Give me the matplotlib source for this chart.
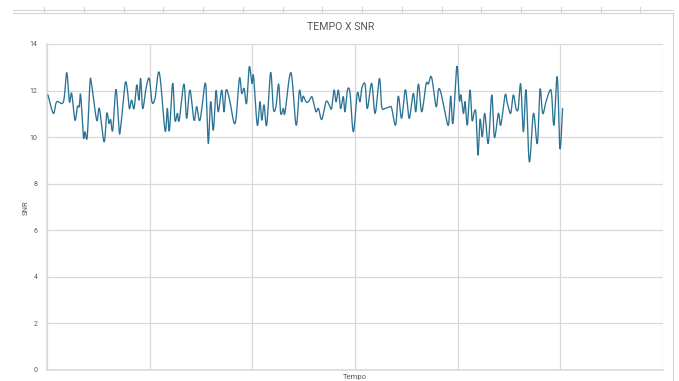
import numpy as np
import matplotlib
matplotlib.use("Agg")
import matplotlib.pyplot as plt
from matplotlib.lines import Line2D

# SNR readings over time
tempo = [0.5, 3.1, 4.7, 8.0, 9.6, 10.9, 12.0, 13.6, 14.8, 15.7, 16.4, 17.7, 18.5, 19.6,
         20.9, 21.7, 24.2, 25.5, 27.8, 29.1, 30.2, 31.0, 32.0, 33.6, 35.1, 35.9, 38.0,
         39.1, 40.1, 41.2, 42.4, 43.7, 44.8, 45.6, 46.6, 48.2, 49.8, 51.1, 52.6, 54.7,
         57.5, 58.6, 59.6, 61.2, 62.3, 63.5, 64.4, 66.7, 68.0, 69.6, 71.6, 72.9, 74.5,
         77.0, 77.8, 78.6, 79.7, 81.0, 82.3, 83.4, 85.1, 86.2, 87.2, 88.8, 91.6, 93.7,
         94.8, 96.0, 97.2, 98.5, 99.8, 100.6, 102.4, 103.7, 104.6, 105.7, 107.0, 108.9,
         110.2, 111.5, 112.8, 113.8, 115.1, 115.9, 118.8, 121.3, 122.9, 124.0, 124.8,
         126.1, 127.3, 128.9, 129.7, 131.0, 132.2, 133.8, 135.9, 137.5, 138.6, 139.8,
         140.8, 141.9, 143.0, 144.3, 145.1, 146.3, 147.6, 149.2, 151.1, 152.4, 153.3,
         154.9, 156.0, 158.1, 159.8, 161.9, 163.0, 164.6, 167.1, 167.9, 169.8, 171.1,
         172.7, 174.4, 175.5, 176.5, 178.4, 179.6, 180.9, 182.5, 184.6, 185.7, 187.3,
         189.5, 190.6, 191.7, 193.8, 195.5, 196.6, 197.7, 199.6, 200.8, 201.6, 202.8,
         203.6, 204.7, 206.0, 207.0, 208.0, 208.9, 209.9, 210.9, 212.0, 213.2, 214.9,
         216.6, 217.9, 219.8, 221.0, 223.1, 224.2, 225.8, 227.1, 228.4, 229.5, 230.7,
         232.0, 233.3, 234.9, 236.9, 238.8, 240.1, 241.4, 243.0, 245.0, 245.8, 246.9,
         248.5, 249.8, 251.1]
snr = [11.81, 11.02, 11.52, 11.52, 12.77, 11.52, 11.88, 10.73, 11.31, 11.31, 11.81, 10.02,
       10.23, 10.02, 12.31, 12.28, 10.73, 11.23, 9.80, 11.02, 10.59, 10.76, 10.30, 12.05,
       10.28, 10.45, 12.28, 12.05, 11.23, 11.59, 11.23, 12.24, 11.59, 12.52, 11.23, 12.09,
       12.52, 11.52, 11.66, 12.77, 10.28, 11.23, 10.28, 12.31, 10.73, 11.02, 10.73, 12.28,
       10.81, 12.02, 10.73, 11.31, 10.73, 12.31, 11.31, 9.73, 11.52, 10.30, 11.99, 11.09,
       12.02, 11.09, 12.02, 11.66, 10.59, 12.52, 11.88, 12.09, 11.45, 13.02, 12.31, 12.60,
       10.52, 11.52, 10.73, 11.38, 10.52, 12.77, 11.23, 11.31, 12.28, 11.02, 11.23, 11.05,
       12.77, 10.52, 11.99, 11.52, 11.76, 11.52, 11.52, 11.74, 11.52, 11.09, 11.23, 10.76,
       11.52, 11.38, 11.23, 12.02, 11.52, 12.02, 11.23, 11.74, 11.09, 12.02, 11.88, 10.23,
       11.88, 11.52, 12.09, 12.28, 11.23, 12.31, 11.02, 12.52, 11.31, 11.23, 11.31, 11.23,
       10.52, 11.76, 10.81, 12.02, 11.45, 10.81, 11.88, 11.09, 12.28, 11.09, 12.28, 12.28,
       12.57, 11.31, 12.02, 11.95, 11.09, 10.52, 11.76, 10.60, 13.03, 11.59, 11.81, 11.02,
       11.52, 10.52, 12.02, 10.73, 11.05, 11.02, 9.23, 10.76, 10.02, 11.02, 9.73, 11.81,
       9.99, 11.02, 10.52, 11.81, 11.45, 11.02, 11.81, 11.23, 11.23, 12.28, 10.23, 12.02,
       8.94, 11.02, 9.73, 12.05, 11.02, 11.52, 12.02, 11.81, 10.52, 12.59, 9.52, 11.23]

x_ticks = list(range(0, 301, 50))
y_ticks = list(range(0, 15, 2))

TEXT = "#595959"
GRID = "#d9d9d9"
LINE = "#2a7395"
FRAME = "#d4d4d4"


def smooth_curve(x, y, per_seg=16):
    """Bezier smoothing through every point (tangent tension 1/6)."""
    pts = np.column_stack([x, y]).astype(float)
    ext = np.vstack([pts[0], pts, pts[-1]])
    s = np.linspace(0.0, 1.0, per_seg, endpoint=False)[:, None]
    parts = []
    for i in range(1, len(ext) - 2):
        p0, p1, p2, p3 = ext[i - 1], ext[i], ext[i + 1], ext[i + 2]
        c1 = p1 + (p2 - p0) / 6.0
        c2 = p2 - (p3 - p1) / 6.0
        parts.append((1 - s) ** 3 * p1 + 3 * (1 - s) ** 2 * s * c1
                     + 3 * (1 - s) * s ** 2 * c2 + s ** 3 * p2)
    parts.append(pts[-1:])
    out = np.vstack(parts)
    return out[:, 0], out[:, 1]


plt.rcParams["font.family"] = ["Roboto", "DejaVu Sans"]

W, H = 679, 381
fig = plt.figure(figsize=(W / 100, H / 100), dpi=100)
ax = fig.add_axes([47 / W, 11 / H, 616 / W, 326 / H])

sx, sy = smooth_curve(tempo, snr)
ax.plot(sx, sy, color=LINE, lw=0.95, solid_capstyle="round", zorder=3)

ax.set_xlim(0, 300)
ax.set_ylim(0, 14)
ax.set_xticks(x_ticks)
ax.set_yticks(y_ticks)
ax.grid(True, color=GRID, lw=0.9)
ax.set_axisbelow(True)
for side in ("top", "right"):
    ax.spines[side].set_visible(False)
for side in ("left", "bottom"):
    ax.spines[side].set_color(GRID)
    ax.spines[side].set_linewidth(1.2)
ax.tick_params(axis="both", length=0, labelsize=5, colors=TEXT, pad=7)
ax.tick_params(axis="x", labelbottom=False)

fig.text(341 / W, 1 - 27 / H, "TEMPO X SNR", ha="center", va="center",
         fontsize=7.6, color=TEXT)
fig.text(355 / W, 1 - 377 / H, "Tempo", ha="center", va="center",
         fontsize=5.5, color=TEXT)
fig.text(26 / W, 1 - 208 / H, "SNR", ha="center", va="center",
         rotation=90, fontsize=5.5, color=TEXT)

# chart frame: double rule with markers along the top, single rule on the right
def fig_line(xs, ys, **kw):
    fig.add_artist(Line2D([v / W for v in xs], [1 - v / H for v in ys],
                          transform=fig.transFigure, color=FRAME, lw=0.8, **kw))

fig_line([13, 673], [9.5, 9.5])
fig_line([13, 673], [13.2, 13.2])
for k in range(16):
    px = 44 + 39.75 * k
    fig_line([px, px], [7, 13.2])
fig_line([672.5, 672.5], [13.2, 381])

fig.savefig("out.png", dpi=100)
